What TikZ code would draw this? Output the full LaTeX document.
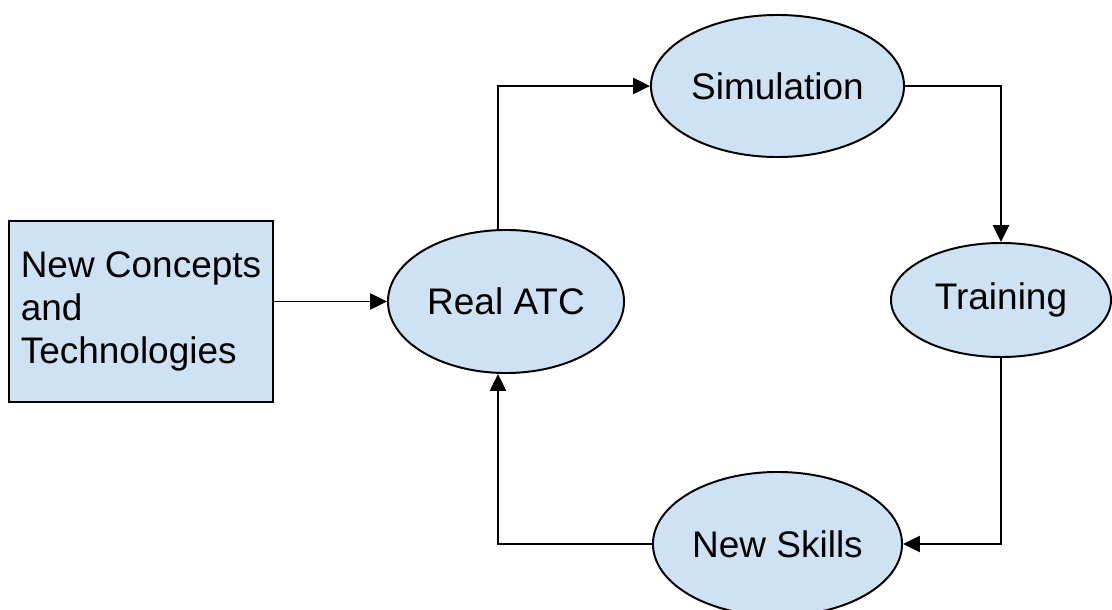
\documentclass[tikz,border=0pt]{standalone}
\usepackage{fontspec}
\setmainfont{Liberation Sans}
\usetikzlibrary{shapes.geometric, arrows.meta}

\definecolor{paleblue}{HTML}{CFE2F3}

\begin{document}
\begin{tikzpicture}[x=0.025cm, y=-0.025cm, line width=1.4pt,
  font=\fontsize{26.3}{30.5}\selectfont,
  bubble/.style={ellipse, draw, fill=paleblue, inner sep=0pt},
  flow/.style={-{Triangle[length=0.42cm, width=0.4cm]}}]
  \useasboundingbox (0,0) rectangle (1112,610);

  % input box
  \node[draw, fill=paleblue, minimum width=6.59cm, minimum height=4.525cm,
    align=left] (concepts) at (141,311.5)
    {New Concepts\\and\\Technologies};

  % the cycle
  \node[bubble, minimum width=5.9cm, minimum height=3.575cm] (real) at (506,301.5) {Real ATC};
  \node[bubble, minimum width=6.325cm, minimum height=3.55cm] (sim) at (777.5,86) {Simulation};
  \node[bubble, minimum width=5.5cm, minimum height=2.85cm] (train) at (1001,300) {Training};
  \node[bubble, minimum width=6.225cm, minimum height=3.6cm] (skills) at (777.5,544) {New Skills};

  \draw[flow] (concepts.east |- real.west) -- (real.west);
  \draw[flow] ([xshift=-0.2cm]real.north) |- (sim.west);
  \draw[flow] (sim.east) -| (train.north);
  \draw[flow] (train.south) |- (skills.east);
  \draw[flow] (skills.west) -| ([xshift=-0.2cm]real.south);
\end{tikzpicture}
\end{document}
